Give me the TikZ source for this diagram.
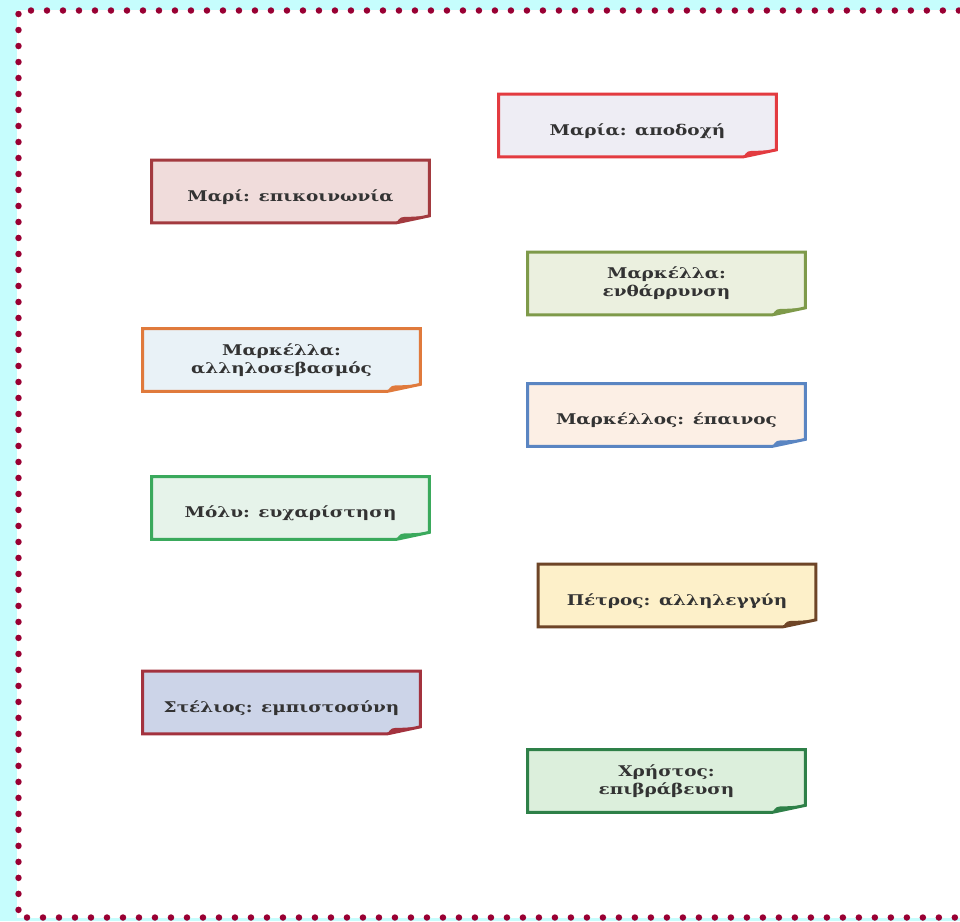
\documentclass[tikz,border=0pt]{standalone}
\usepackage{fontspec}
\usetikzlibrary{backgrounds}
\newfontfamily\cardfont[FakeStretch=1.25]{DejaVu Serif}

\definecolor{bgcyan}{HTML}{C6FDFD}
\definecolor{dotred}{HTML}{990033}
\definecolor{cardtext}{HTML}{333333}
% border / fill of each card
\definecolor{mariaB}{HTML}{E33B40}     \definecolor{mariaF}{HTML}{EEEDF4}
\definecolor{mariB}{HTML}{A33A3F}      \definecolor{mariF}{HTML}{F0DCDB}
\definecolor{markellaAB}{HTML}{7E9A4A} \definecolor{markellaAF}{HTML}{EBF0DF}
\definecolor{markellaBB}{HTML}{E07A3C} \definecolor{markellaBF}{HTML}{E9F2F7}
\definecolor{markellosB}{HTML}{5A85C2} \definecolor{markellosF}{HTML}{FCEFE5}
\definecolor{molyB}{HTML}{3AA95C}      \definecolor{molyF}{HTML}{E6F3EA}
\definecolor{petrosB}{HTML}{6E4527}    \definecolor{petrosF}{HTML}{FDF0C9}
\definecolor{steliosB}{HTML}{A3323E}   \definecolor{steliosF}{HTML}{CCD4E8}
\definecolor{christosB}{HTML}{2E8048}  \definecolor{christosF}{HTML}{DCEFDC}

\tikzset{
  card/.style = {minimum width=5.54cm, minimum height=1.24cm, inner sep=0pt,
                 align=center, text=cardtext,
                 font=\cardfont\bfseries\fontsize{8.4}{10.2}\selectfont},
  oneline/.style = {text height=13pt},
  cardline/.style = {line width=1.7pt, line join=miter},
  dotline/.style = {dotred, line width=0.13cm, line cap=round,
                    dash pattern=on 0pt off 0.32cm}
}

% [#1] extra options, #2 name, #3 centre, #4 text
\newcommand{\notecard}[4][]{%
  \node[card, #1] (#2) at (#3) {#4};
  \begin{scope}[on background layer]
    \draw[cardline, draw=#2B, fill=#2F] (#2.north west) -- (#2.north east)
      -- ([shift={(0,-7)}]#2.south east) -- ([shift={(-33,0)}]#2.south east)
      -- (#2.south west) -- cycle;
    \fill[#2B] ([shift={(-33,0)}]#2.south east) .. controls ([shift={(-29,-6)}]#2.south east)
      .. ([shift={(-20,-6)}]#2.south east) -- ([shift={(0,-7)}]#2.south east) -- cycle;
  \end{scope}
}

\begin{document}
\begin{tikzpicture}[x=0.02cm, y=-0.02cm]
\useasboundingbox (0,0) rectangle (960,921);
\begin{scope}[on background layer]
\fill[bgcyan] (0,0) rectangle (960,921);
\fill[white] (17,10) rectangle (970,918);
\end{scope}
\draw[dotline] (18.5,14) -- (18.5,912); % left
\draw[dotline] (31,10.5) -- (960,10.5); % top
\draw[dotline] (27,917.5) -- (960,917.5); % bottom

\notecard[oneline]{maria}{637.5,125.5}{Μαρία: αποδοχή}
\notecard[oneline]{mari}{290.5,191.5}{Μαρί: επικοινωνία}
\notecard{markellaA}{666.5,283.5}{Μαρκέλλα:\\ ενθάρρυνση}
\notecard{markellaB}{281.5,360}{Μαρκέλλα:\\ αλληλοσεβασμός}
\notecard[oneline]{markellos}{666.5,415}{Μαρκέλλος: έπαινος}
\notecard[oneline]{moly}{290.5,508}{Μόλυ: ευχαρίστηση}
\notecard[oneline]{petros}{677,595.5}{Πέτρος: αλληλεγγύη}
\notecard[oneline]{stelios}{281.5,702.5}{Στέλιος: εμπιστοσύνη}
\notecard{christos}{666.5,781}{Χρήστος:\\ επιβράβευση}
\end{tikzpicture}
\end{document}
